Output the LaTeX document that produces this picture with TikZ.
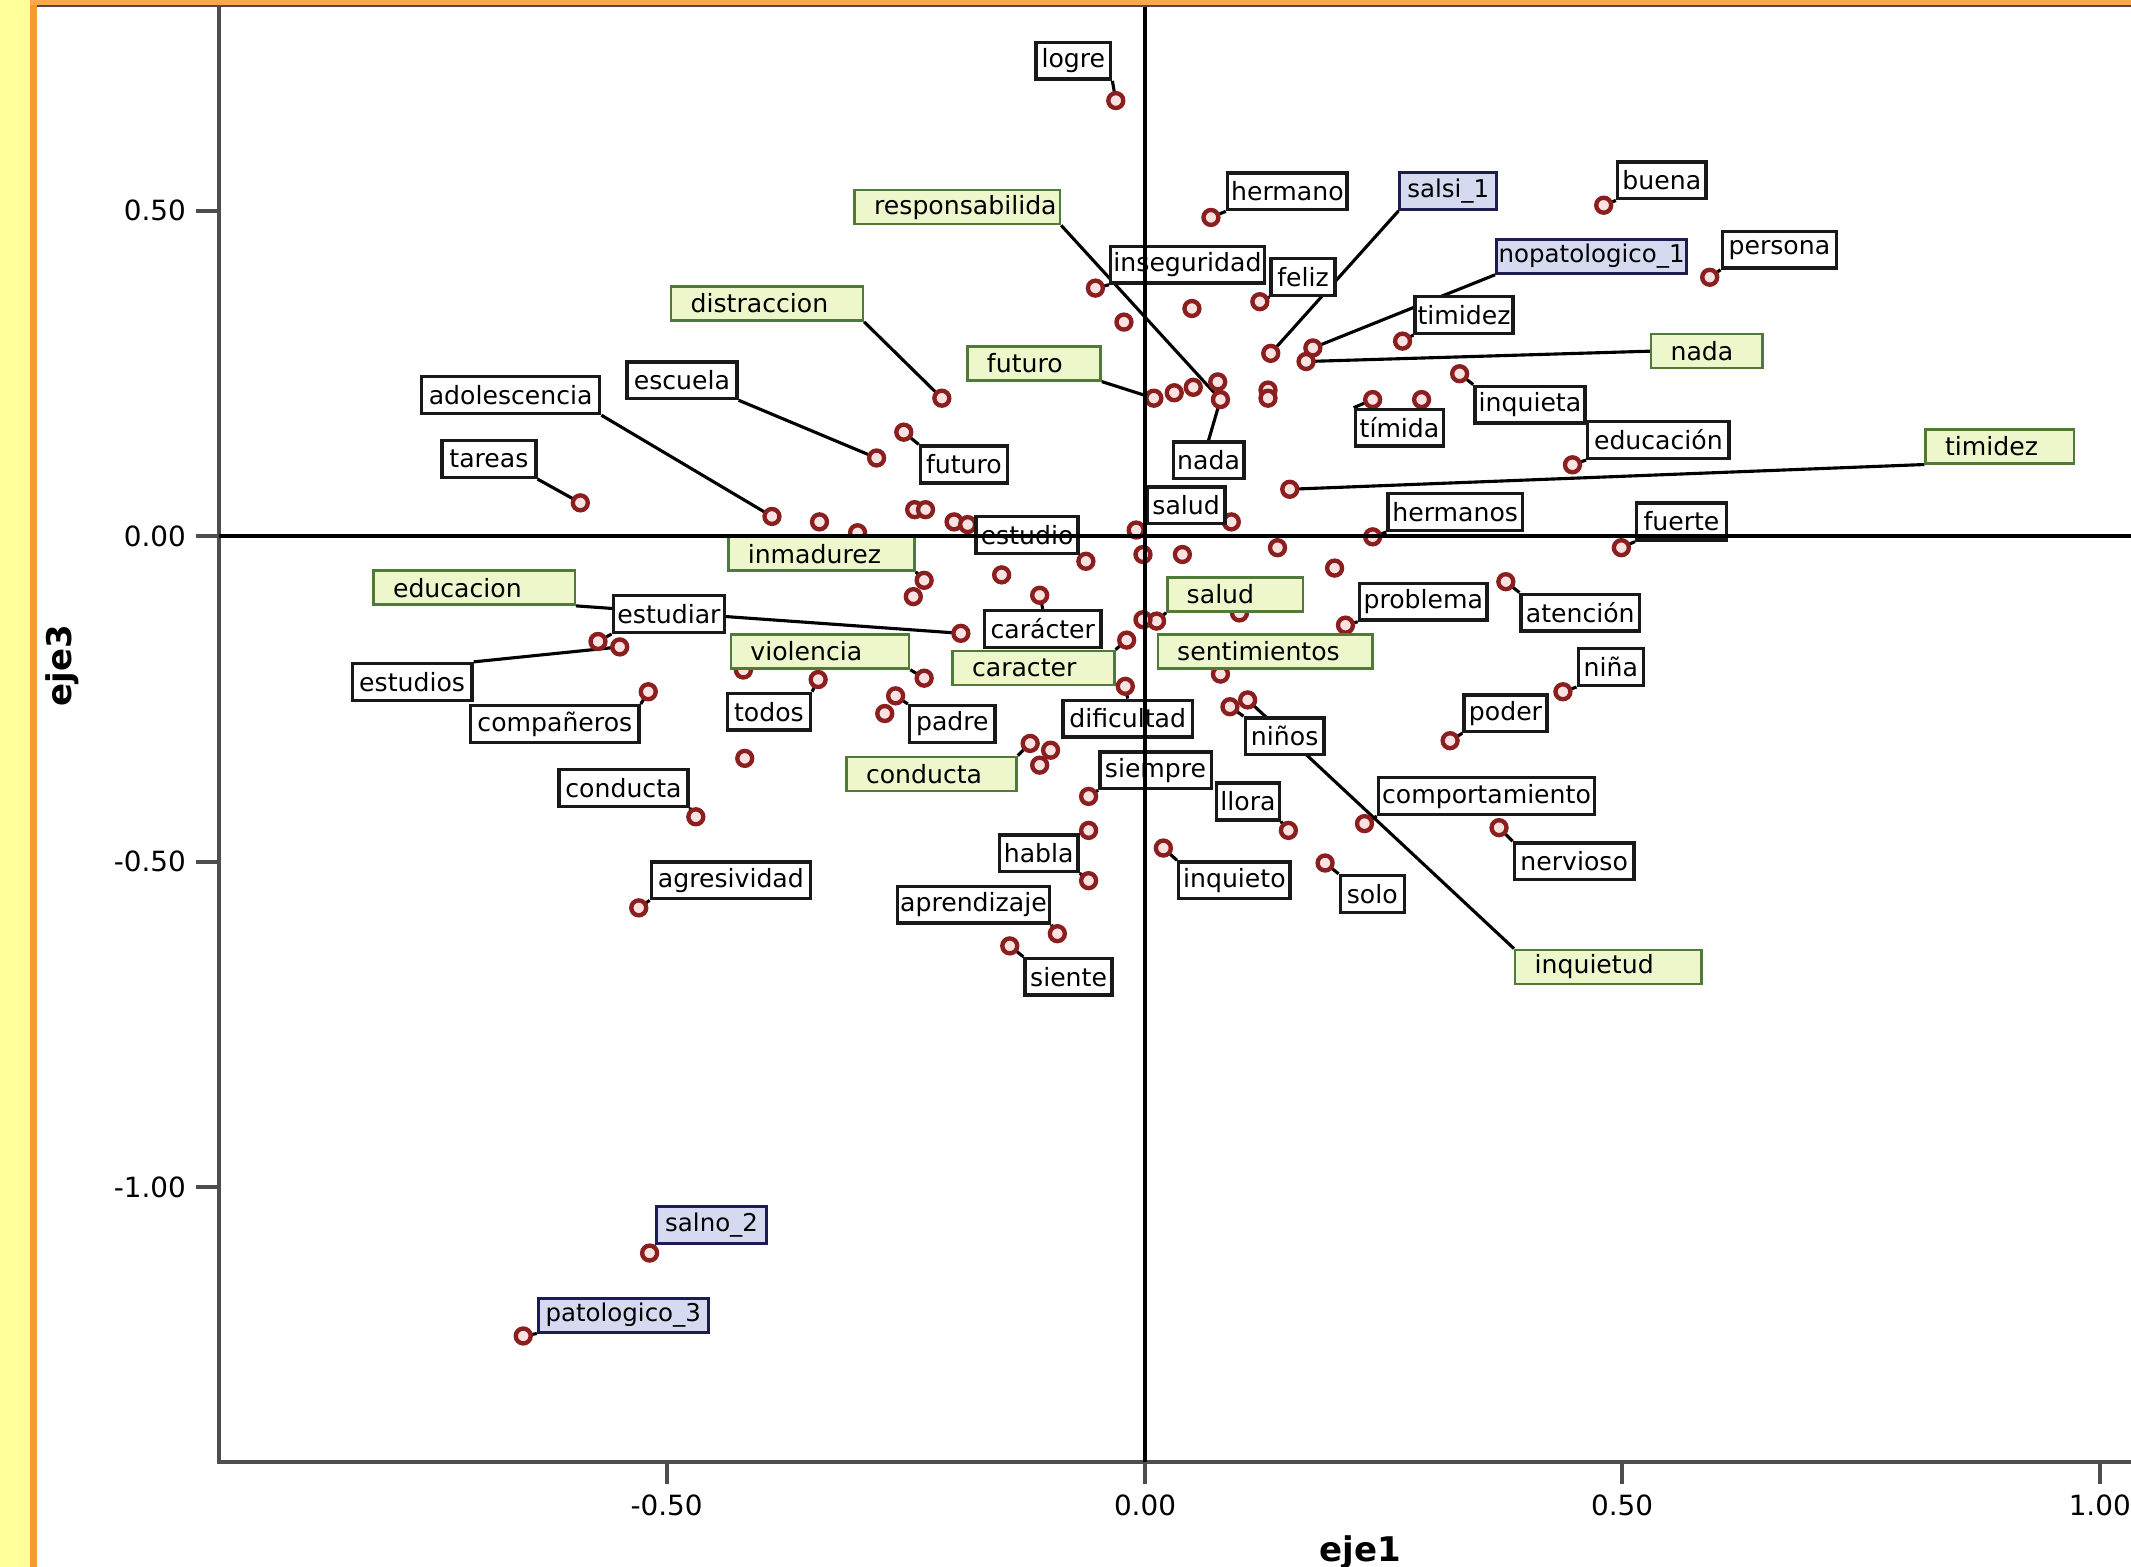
\documentclass[tikz,border=0pt]{standalone}
\usepackage{fontspec}
\setmainfont{DejaVu Sans}
\newcommand\labfont{\fontsize{18.5}{21}\selectfont}
\newcommand\bluefont{\fontsize{18}{21}\selectfont}
\newcommand\tickfont{\fontsize{20.5}{24}\selectfont}
\newcommand\titlefont{\fontsize{25}{29}\selectfont\bfseries}
\definecolor{ptred}{HTML}{8B1E1E}
\definecolor{ptfill}{HTML}{FBE2E2}
\definecolor{greenedge}{HTML}{4F7A3A}
\definecolor{greenfill}{HTML}{EEF6CC}
\definecolor{blueedge}{HTML}{1C1C50}
\definecolor{bluefill}{HTML}{D6DAF0}
\definecolor{stripyellow}{HTML}{FFFF99}
\definecolor{stripor}{HTML}{F39C2C}
\definecolor{topor}{HTML}{F9A84A}
\definecolor{axisgray}{HTML}{4D4D4D}
\pgfdeclarelayer{bg}
\pgfdeclarelayer{lines}
\pgfdeclarelayer{pts}
\pgfsetlayers{bg,lines,pts,main}
\begin{document}
\begin{tikzpicture}[x=1pt,y=-1pt,
  pnt/.style={circle, draw=ptred, fill=ptfill, line width=3.2pt, minimum size=11pt, inner sep=0pt},
  wl/.style={draw=black!90, fill=white, line width=2.5pt, minimum height=27pt, inner xsep=1pt, inner ysep=0pt, anchor=north west, font=\labfont},
  bl/.style={wl, draw=blueedge, fill=bluefill, line width=2.2pt, font=\bluefont},
  gl/.style={draw=greenedge, fill=greenfill, line width=1.8pt, minimum height=25pt, inner sep=0pt, anchor=north west},
  gtx/.style={anchor=west, inner sep=0pt, font=\labfont},
  lead/.style={line width=2.3pt, black},
  refline/.style={line width=2.5pt, black},
  axisline/.style={line width=3pt, axisgray},
  tickmark/.style={line width=3pt, axisgray},
  ticklbl/.style={font=\tickfont, inner sep=0pt}
]
\useasboundingbox (0,0) rectangle (1568,1153);
\begin{pgfonlayer}{bg}
\fill[white] (0,0) rectangle (1568,1153);
\fill[stripyellow] (0,0) rectangle (22,1153);
\fill[stripor] (22,0) rectangle (27,1153);
\fill[topor] (22,0) rectangle (1568,4);
\draw[line width=1.2pt, black!70] (27,4.5) -- (1568,4.5);
% axes
\coordinate (ytop) at (161,5);
\coordinate (orig) at (161,1076);
\coordinate (xend) at (1568,1076);
\draw[axisline] (ytop) -- (orig) -- (xend);
\foreach \n/\y in {a/155, b/394.5, c/634, d/873.5}{
  \coordinate (yt\n) at (144,\y);
  \coordinate (ya\n) at (161,\y);
  \draw[tickmark] (yt\n) -- (ya\n);
}
\foreach \n/\x in {a/490.5, b/842.5, c/1193.5, d/1545}{
  \coordinate (xa\n) at (\x,1076);
  \coordinate (xt\n) at (\x,1092);
  \draw[tickmark] (xa\n) -- (xt\n);
}
\end{pgfonlayer}
\foreach \n/\y/\t in {a/155/0.50, b/394.5/0.00, c/634/-0.50, d/873.5/-1.00}{
  \node[ticklbl, anchor=east] (yl\n) at (137,\y) {\t};
}
\foreach \n/\x/\t in {a/490.5/-0.50, b/842.5/0.00, c/1193.5/0.50, d/1545/1.00}{
  \node[ticklbl] (xl\n) at (\x,1108) {\t};
}
\node[font=\titlefont, rotate=90] (ylab) at (46,490) {eje3};
\node[font=\titlefont, anchor=base] (xlab) at (1001,1149) {eje1};

% points
\begin{pgfonlayer}{pts}
\foreach \n/\x/\y in {1/821/74, 2/891/160, 3/935/260, 4/1180/151, 5/898/294, 6/806/212,
  7/927/222, 8/966/256, 9/1032/251, 10/1258/204, 11/961/266, 12/693/293, 13/849/293,
  14/645/337, 15/568/380, 16/427/370, 17/665/318, 18/836/390, 19/1010/395, 20/949/360,
  21/1074/275, 22/1157/342, 23/1010/294, 24/1193/403, 25/680/427, 26/799/413, 27/851/457,
  28/990/460, 29/1108/428, 30/707/466, 31/440/472, 32/456/476, 33/765/438, 34/829/471,
  35/680/499, 36/602/500, 37/477/509, 38/659/512, 39/828/505, 40/1150/509, 41/1067/545,
  42/905/520, 43/918/515, 44/801/586, 45/512/601, 46/758/547, 47/948/611, 48/1004/606,
  49/801/611, 50/801/648, 51/1103/609, 52/856/624, 53/975/635, 54/470/668, 55/778/687,
  56/743/696, 57/478/922, 58/385/983, 59/827/237, 60/877/227, 61/864/289, 62/878/285,
  63/896/281, 64/933/287, 65/933/293, 66/1046/294, 67/603/384, 68/631/392, 69/673/375,
  70/681/375, 71/702/384, 72/712/386, 73/906/384, 74/940/403, 75/982/418, 76/841/408,
  77/870/408, 78/737/423, 79/672/439, 80/912/451, 81/841/456, 82/547/493, 83/548/558,
  84/651/525, 85/773/552, 86/765/563, 87/898/496}{
  \node[pnt] (p\n) at (\x,\y) {};
}
\end{pgfonlayer}

% white labels
\node[wl, minimum width=55] (logre) at (761,30) {logre};
\node[wl, minimum width=88] (hermano) at (902,126) {hermano};
\node[wl, minimum width=65] (buena) at (1189,118) {buena};
\node[wl, minimum width=113] (inseg) at (816,180) {inseguridad};
\node[wl, minimum width=47] (feliz) at (934,189) {feliz};
\node[wl, minimum width=72] (timidezw) at (1040,217) {timidez};
\node[wl, minimum width=84] (persona) at (1266,169) {persona};
\node[wl, minimum width=81] (escuela) at (460,265) {escuela};
\node[wl, minimum width=131] (adol) at (309,276) {adolescencia};
\node[wl, minimum width=69] (tareas) at (324,323) {tareas};
\node[wl, minimum width=64] (futurow) at (676,327) {futuro};
\node[wl, minimum width=52] (nadaw) at (862,324) {nada};
\node[wl, minimum width=65] (timida) at (996,300) {tímida};
\node[wl, minimum width=81] (inquieta) at (1084,283) {inquieta};
\node[wl, minimum width=104] (educw) at (1167,309) {educación};
\node[wl, minimum width=57] (saludw) at (843,357) {salud};
\node[wl, minimum width=99] (hermanos) at (1020,362) {hermanos};
\node[wl, minimum width=66] (fuerte) at (1203,369) {fuerte};
\node[wl, minimum width=75] (estudio) at (717,379) {estudio};
\node[wl, minimum width=82] (estudiar) at (450,437) {estudiar};
\node[wl, minimum width=86] (caracterw) at (723,448) {carácter};
\node[wl, minimum width=94] (problema) at (999,428) {problema};
\node[wl, minimum width=87] (atencion) at (1118,436) {atención};
\node[wl, minimum width=88] (estudios) at (258,487) {estudios};
\node[wl, minimum width=124] (comp) at (345,518) {compañeros};
\node[wl, minimum width=61] (todos) at (534,509) {todos};
\node[wl, minimum width=63] (padre) at (668,518) {padre};
\node[wl, minimum width=95] (dific) at (781,514) {dificultad};
\node[wl, minimum width=48] (nina) at (1160,476) {niña};
\node[wl, minimum width=61] (poder) at (1076,510) {poder};
\node[wl, minimum width=58] (ninos) at (915,527) {niños};
\node[wl, minimum width=82] (siempre) at (808,552) {siempre};
\node[wl, minimum width=95] (condw) at (410,565) {conducta};
\node[wl, minimum width=46] (llora) at (894,575) {llora};
\node[wl, minimum width=159] (compor) at (1013,571) {comportamiento};
\node[wl, minimum width=58] (habla) at (734,613) {habla};
\node[wl, minimum width=88] (nerv) at (1113,619) {nervioso};
\node[wl, minimum width=82] (inquieto) at (866,633) {inquieto};
\node[wl, minimum width=47] (solo) at (985,643) {solo};
\node[wl, minimum width=117] (agres) at (478,633) {agresividad};
\node[wl, minimum width=112] (aprend) at (659,651) {aprendizaje};
\node[wl, minimum width=64] (siente) at (753,704) {siente};

% blue labels
\node[bl, minimum width=71] (salsi) at (1029,126) {salsi\_1};
\node[bl, minimum width=140, minimum height=25] (nopat) at (1100,175) {nopatologico\_1};
\node[bl, minimum width=81] (salno) at (482,887) {salno\_2};
\node[bl, minimum width=125, minimum height=25] (patol) at (395,954) {patologico\_3};

% green labels
\foreach \nm/\x/\y/\w/\t in {gresp/628/139/151/responsabilida, gdist/493/210/141/distraccion,
  gfut/711/254/98/futuro, gnada/1214/245/82/nada, gtim/1416/315/109/timidez,
  ginm/535/394/137/inmadurez, geduc/274/419/148/educacion, gsal/858/424/100/salud,
  gviol/537/466/131/violencia, gcar/700/478/119/caracter, gsent/851/466/158/sentimientos,
  gcond/622/556/125/conducta, ginq/1114/698/137/inquietud}{
  \node[gl, minimum width=\w] (\nm) at (\x,\y) {};
  \node[gtx] (\nm-t) at ([xshift=15pt]\nm.west) {\t};
}

% leaders
\begin{pgfonlayer}{lines}
\draw[lead] (logre.south east) -- (p1.center);
\draw[lead] (hermano.south west) -- (p2.center);
\draw[lead] (salsi.south west) -- (p3.center);
\draw[lead] (buena.south west) -- (p4.center);
\draw[lead] (gresp.south east) -- (p5.center);
\draw[lead] (nadaw.north) -- (p5.center);
\draw[lead] (inseg.south west) -- (p6.center);
\draw[lead] (feliz.south west) -- (p7.center);
\draw[lead] (nopat.south west) -- (p8.center);
\draw[lead] (timidezw.south west) -- (p9.center);
\draw[lead] (persona.south west) -- (p10.center);
\draw[lead] (gnada.west) -- (p11.center);
\draw[lead] (gdist.south east) -- (p12.center);
\draw[lead] (gfut.south east) -- (p13.center);
\draw[lead] (escuela.south east) -- (p14.center);
\draw[lead] (adol.south east) -- (p15.center);
\draw[lead] (tareas.south east) -- (p16.center);
\draw[lead] (futurow.north west) -- (p17.center);
\draw[lead] (saludw.south west) -- (p18.center);
\draw[lead] (hermanos.south west) -- (p19.center);
\draw[lead] (gtim.south west) -- (p20.center);
\draw[lead] (inquieta.north west) -- (p21.center);
\draw[lead] (educw.south west) -- (p22.center);
\draw[lead] (timida.north west) -- (p23.center);
\draw[lead] (fuerte.south west) -- (p24.center);
\draw[lead] (ginm.south east) -- (p25.center);
\draw[lead] (estudio.south east) -- (p26.center);
\draw[lead] (gsal.south west) -- (p27.center);
\draw[lead] (problema.south west) -- (p28.center);
\draw[lead] (atencion.north west) -- (p29.center);
\draw[lead] (geduc.south east) -- (p30.center);
\draw[lead] (estudiar.south west) -- (p31.center);
\draw[lead] (estudios.north east) -- (p32.center);
\draw[lead] (caracterw.north) -- (p33.center);
\draw[lead] (gcar.north east) -- (p34.center);
\draw[lead] (gviol.south east) -- (p35.center);
\draw[lead] (todos.north east) -- (p36.center);
\draw[lead] (comp.north east) -- (p37.center);
\draw[lead] (padre.north west) -- (p38.center);
\draw[lead] (dific.north) -- (p39.center);
\draw[lead] (nina.south west) -- (p40.center);
\draw[lead] (poder.south west) -- (p41.center);
\draw[lead] (ninos.north west) -- (p42.center);
\draw[lead] (ginq.north west) -- (p43.center);
\draw[lead] (siempre.south west) -- (p44.center);
\draw[lead] (condw.south east) -- (p45.center);
\draw[lead] (gcond.north east) -- (p46.center);
\draw[lead] (llora.south east) -- (p47.center);
\draw[lead] (compor.south west) -- (p48.center);
\draw[lead] (habla.north east) -- (p49.center);
\draw[lead] (habla.south east) -- (p50.center);
\draw[lead] (nerv.north west) -- (p51.center);
\draw[lead] (inquieto.north west) -- (p52.center);
\draw[lead] (solo.north west) -- (p53.center);
\draw[lead] (agres.south west) -- (p54.center);
\draw[lead] (aprend.south east) -- (p55.center);
\draw[lead] (siente.north west) -- (p56.center);
\draw[lead] (salno.south west) -- (p57.center);
\draw[lead] (patol.south west) -- (p58.center);
\end{pgfonlayer}

% reference lines (on top)
\coordinate (vtop) at (842.5,5);
\coordinate (vbot) at (842.5,1076);
\coordinate (hleft) at (161,394.5);
\coordinate (hright) at (1568,394.5);
\draw[refline] (vtop) -- (vbot);
\draw[refline] (hleft) -- (hright);
\end{tikzpicture}
\end{document}
